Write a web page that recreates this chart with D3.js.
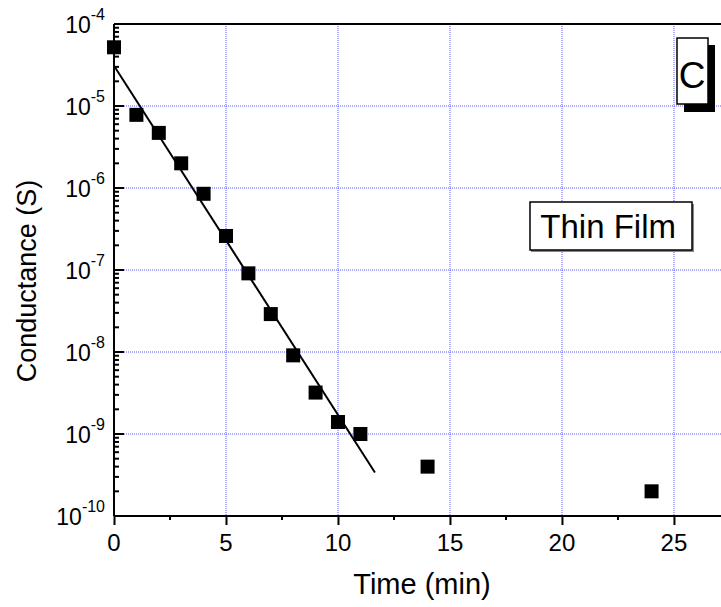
<!DOCTYPE html>
<html>
<head>
<meta charset="utf-8">
<script src="https://cdn.jsdelivr.net/npm/d3@7"></script>
<style>
  body { margin: 0; background: #fff; }
  text { font-family: "Liberation Sans", Arial, sans-serif; fill: #000; }
</style>
</head>
<body>
<svg id="chart"></svg>
<script>
// measured points
const timeMin = [0, 1, 2, 3, 4, 5, 6, 7, 8, 9, 10, 11, 14, 24];
const conductance = [5.2e-5, 7.8e-6, 4.7e-6, 2.0e-6, 8.5e-7, 2.6e-7, 9.1e-8, 2.9e-8,
  9.1e-9, 3.2e-9, 1.4e-9, 1.0e-9, 4.0e-10, 2.0e-10];

// linear fit on log scale (end points)
const fitTime = [0, 11.65];
const fitConductance = [3.1e-5, 3.4e-10];

const xTicks = [0, 5, 10, 15, 20, 25];
const yExponents = [-4, -5, -6, -7, -8, -9, -10];

const W = 721, H = 607;
const margin = { top: 24, right: 0, bottom: 91, left: 114 },
  width = W - margin.left - margin.right,
  height = H - margin.top - margin.bottom;

const svg = d3.select("#chart").attr("width", W).attr("height", H);
const g = svg.append("g").attr("transform", `translate(${margin.left},${margin.top})`);

const x = d3.scaleLinear().domain([0, 27.1]).range([0, width]);
const y = d3.scaleLog().domain([1e-10, 1e-4]).range([height, 0]);

// grid
g.append("g")
  .selectAll("line")
  .data(xTicks.filter((d) => d > 0))
  .join("line")
  .attr("x1", (d) => x(d))
  .attr("x2", (d) => x(d))
  .attr("y1", 0)
  .attr("y2", height)
  .attr("stroke", "#5a5aff")
  .attr("stroke-width", 1)
  .attr("stroke-dasharray", "1,1");
g.append("g")
  .selectAll("line")
  .data(yExponents.filter((e) => e > -10 && e < -4))
  .join("line")
  .attr("x1", 0)
  .attr("x2", width)
  .attr("y1", (e) => y(Math.pow(10, e)))
  .attr("y2", (e) => y(Math.pow(10, e)))
  .attr("stroke", "#5a5aff")
  .attr("stroke-width", 1)
  .attr("stroke-dasharray", "1,1");

// x axis, ticks outside
const xMinor = d3.range(2.5, 27.1, 5);
const xAxis = g.append("g").attr("transform", `translate(0,${height})`);
xAxis.call(d3.axisBottom(x).tickValues(xTicks).tickSize(9).tickFormat(""))
  .call((a) => a.select(".domain").remove());
xAxis.selectAll(".tick line").attr("stroke-width", 2);
xAxis.selectAll("line.minor")
  .data(xMinor)
  .join("line")
  .attr("class", "minor")
  .attr("x1", (d) => x(d))
  .attr("x2", (d) => x(d))
  .attr("y1", 0)
  .attr("y2", 4)
  .attr("stroke", "#000")
  .attr("stroke-width", 2);
xAxis.selectAll("text.lbl")
  .data(xTicks)
  .join("text")
  .attr("class", "lbl")
  .attr("x", (d) => x(d))
  .attr("y", 35)
  .attr("text-anchor", "middle")
  .style("font-size", "24px")
  .text((d) => d);

// y axis, ticks inside
const yMinor = [];
yExponents.slice(1).forEach((e) => {
  for (let k = 2; k <= 9; k++) yMinor.push(k * Math.pow(10, e));
});
const yAxis = g.append("g");
yAxis.selectAll("line.major")
  .data(yExponents)
  .join("line")
  .attr("class", "major")
  .attr("x1", 0)
  .attr("x2", 10)
  .attr("y1", (e) => y(Math.pow(10, e)))
  .attr("y2", (e) => y(Math.pow(10, e)))
  .attr("stroke", "#000")
  .attr("stroke-width", 2);
yAxis.selectAll("line.minor")
  .data(yMinor)
  .join("line")
  .attr("class", "minor")
  .attr("x1", 0)
  .attr("x2", 5)
  .attr("y1", (d) => y(d))
  .attr("y2", (d) => y(d))
  .attr("stroke", "#000")
  .attr("stroke-width", 2);
const yLbl = yAxis.selectAll("text.lbl")
  .data(yExponents)
  .join("text")
  .attr("class", "lbl")
  .attr("x", -9)
  .attr("y", (e) => y(Math.pow(10, e)) + 9)
  .attr("text-anchor", "end")
  .style("font-size", "23px");
yLbl.append("tspan").text("10");
yLbl.append("tspan")
  .attr("dy", -13)
  .style("font-size", "16px")
  .text((e) => e);

// frame lines
g.append("line").attr("x1", 0).attr("x2", width).attr("y1", 0).attr("y2", 0)
  .attr("stroke", "#000").attr("stroke-width", 2);
g.append("line").attr("x1", 0).attr("x2", width).attr("y1", height).attr("y2", height)
  .attr("stroke", "#000").attr("stroke-width", 2);
g.append("line").attr("x1", 0).attr("x2", 0).attr("y1", 0).attr("y2", height)
  .attr("stroke", "#000").attr("stroke-width", 2);

// fit line
g.append("path")
  .datum(fitTime.map((t, i) => [t, fitConductance[i]]))
  .attr("fill", "none")
  .attr("stroke", "#000")
  .attr("stroke-width", 2)
  .attr("d", d3.line().x((d) => x(d[0])).y((d) => y(d[1])));

// points
const sq = 14;
g.selectAll("rect.pt")
  .data(timeMin.map((t, i) => [t, conductance[i]]))
  .join("rect")
  .attr("class", "pt")
  .attr("x", (d) => x(d[0]) - sq / 2)
  .attr("y", (d) => y(d[1]) - sq / 2)
  .attr("width", sq)
  .attr("height", sq)
  .attr("fill", "#000");

// axis titles
svg.append("text")
  .attr("x", 422)
  .attr("y", 594)
  .attr("text-anchor", "middle")
  .style("font-size", "29px")
  .text("Time (min)");
svg.append("text")
  .attr("transform", "translate(36,281) rotate(-90)")
  .attr("text-anchor", "middle")
  .style("font-size", "27px")
  .text("Conductance (S)");

// "Thin Film" box
const tf = svg.append("g");
tf.append("rect").attr("x", 531).attr("y", 204).attr("width", 163).attr("height", 48).attr("fill", "#888");
tf.append("rect").attr("x", 530).attr("y", 202).attr("width", 162).attr("height", 48)
  .attr("fill", "#fff").attr("stroke", "#000").attr("stroke-width", 1.5);
tf.append("text").attr("x", 676).attr("y", 238).attr("text-anchor", "end")
  .style("font-size", "33px").text("Thin Film");

// panel letter box
const pc = svg.append("g");
pc.append("rect").attr("x", 684).attr("y", 45).attr("width", 31).attr("height", 67).attr("fill", "#000");
pc.append("rect").attr("x", 677).attr("y", 38).attr("width", 31).attr("height", 66)
  .attr("fill", "#fff").attr("stroke", "#000").attr("stroke-width", 1.5);
pc.append("text").attr("x", 692).attr("y", 88).attr("text-anchor", "middle")
  .style("font-size", "37px").text("C");
</script>
</body>
</html>
